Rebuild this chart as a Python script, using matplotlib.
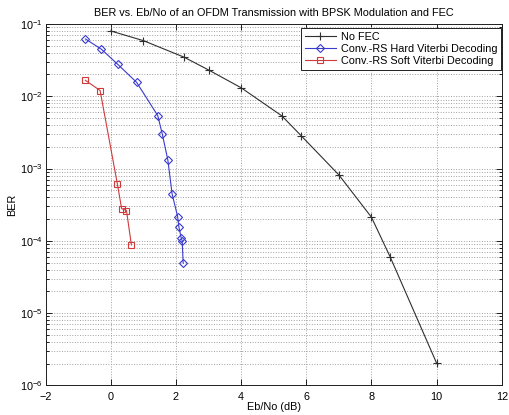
import matplotlib
matplotlib.use("Agg")
import matplotlib.pyplot as plt
from matplotlib.ticker import LogLocator, NullFormatter

plt.rcParams['font.family'] = ['Liberation Sans', 'DejaVu Sans']
plt.rcParams['mathtext.default'] = 'regular'

title = "BER vs. Eb/No of an OFDM Transmission with BPSK Modulation and FEC"

nofec_x = [0, 1, 2.25, 3, 4, 5.25, 5.85, 7, 8, 8.57, 10]
nofec_y = [0.080, 0.0588, 0.0347, 0.0231, 0.0131, 0.00535, 0.00282, 0.000816, 0.000212, 6.05e-5, 2.03e-6]

hard_x = [-0.78, -0.29, 0.21, 0.79, 1.44, 1.58, 1.75, 1.88, 2.05, 2.09, 2.16, 2.19, 2.22]
hard_y = [0.0621, 0.0447, 0.0277, 0.0156, 0.0054, 0.00298, 0.00131, 0.000446, 0.000216, 0.000154, 0.000109, 0.0001, 4.9e-5]

soft_x = [-0.78, -0.33, 0.2, 0.33, 0.48, 0.63]
soft_y = [0.0166, 0.0120, 0.000612, 0.000279, 0.000262, 8.77e-5]

labels = ["No FEC", "Conv.-RS Hard Viterbi Decoding", "Conv.-RS Soft Viterbi Decoding"]

fs = 7.8

fig = plt.figure(figsize=(5.09, 4.15), dpi=100)
ax = fig.add_axes([0.0898, 0.0716, 0.8959, 0.8706])

ax.semilogy(nofec_x, nofec_y, color='#303030', lw=0.8, marker='+', ms=6, mew=0.8, label=labels[0])
ax.semilogy(hard_x, hard_y, color='#3a3ad0', lw=0.8, marker='D', ms=4.5, mew=0.8, mfc='none', label=labels[1])
ax.semilogy(soft_x, soft_y, color='#d03a3a', lw=0.8, marker='s', ms=5, mew=0.8, mfc='none', label=labels[2])

ax.set_xlim(-2, 12)
ax.set_ylim(1e-6, 1e-1)
ax.set_xticks(range(-2, 13, 2))
ax.yaxis.set_major_locator(LogLocator(base=10, numticks=10))
ax.yaxis.set_minor_locator(LogLocator(base=10, subs=range(2, 10), numticks=100))
ax.yaxis.set_minor_formatter(NullFormatter())

ax.grid(True, which='major', ls=':', color='#a0a0a0', lw=0.7)
ax.grid(True, which='minor', axis='y', ls=':', color='#a0a0a0', lw=0.7)

ax.tick_params(which='both', direction='in', top=True, right=True, labelsize=fs, width=0.6, pad=2)
ax.tick_params(axis='x', pad=4.5)
ax.tick_params(which='major', length=4)
ax.tick_params(which='minor', length=2)
for s in ax.spines.values():
    s.set_linewidth(0.7)
    s.set_color('#202020')

ax.set_title(title, fontsize=fs, pad=6)
ax.set_xlabel("Eb/No (dB)", fontsize=fs, labelpad=0)
ax.set_ylabel("BER", fontsize=fs, labelpad=2)

leg = ax.legend(loc='upper right', bbox_to_anchor=(0.998, 0.989), fontsize=fs,
                frameon=True, fancybox=False, edgecolor='#202020', framealpha=1,
                borderpad=0.35, labelspacing=0.2, handlelength=2.9, handletextpad=0.4,
                borderaxespad=0)
leg.get_frame().set_linewidth(0.7)

fig.savefig("out.png", dpi=100)
